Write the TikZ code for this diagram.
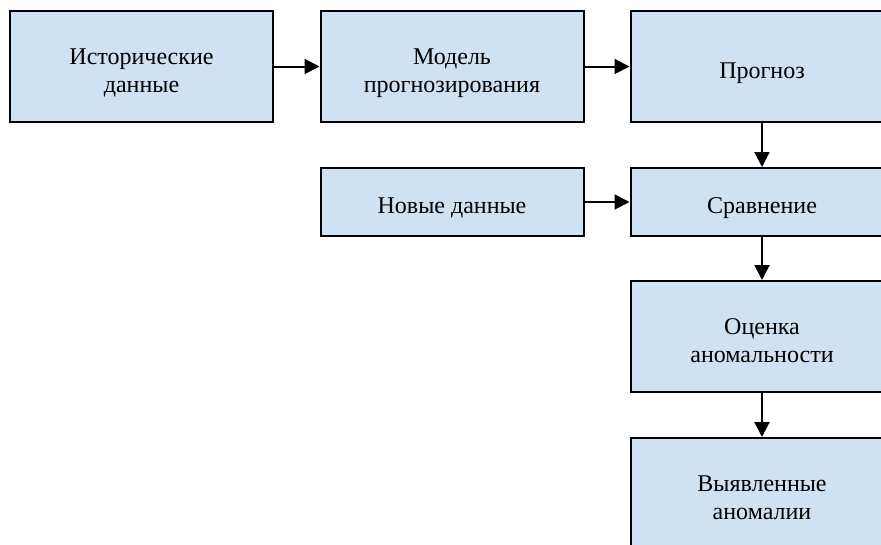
\documentclass[tikz,border=0pt]{standalone}
\usepackage{fontspec}
\setmainfont{Liberation Serif}
\usetikzlibrary{arrows.meta}
\definecolor{boxfill}{RGB}{207,226,243}
% centred lines, set a little below the middle of the box
\newcommand\blocktext[1]{\raisebox{-6pt}[\height][\depth]{\begin{tabular}{@{}c@{}}#1\end{tabular}}}
\begin{document}
\begin{tikzpicture}[x=1pt,y=-1pt,
  block/.style={draw=black, line width=2pt, fill=boxfill, rectangle,
    minimum width=263pt, minimum height=111pt, inner sep=0pt,
    font=\fontsize{24}{28}\selectfont},
  flat/.style={block, minimum height=68pt},
  link/.style={draw=black, line width=2pt, -{Triangle[length=15pt,width=15pt]}}]
  \useasboundingbox (0,0) rectangle (881,544);
  \clip (0,0) rectangle (881,544);
  % top row
  \node[block] (hist) at (141.5,66.5) {\blocktext{Исторические\\данные}};
  \node[block] (model) at (452,66.5) {\blocktext{Модель\\прогнозирования}};
  \node[block] (fc) at (762,66.5) {\blocktext{Прогноз}};
  % second row
  \node[flat] (new) at (452,202) {\blocktext{Новые данные}};
  \node[flat] (cmp) at (762,202) {\blocktext{Сравнение}};
  % right column
  \node[block] (score) at (762,336.5) {\blocktext{Оценка\\аномальности}};
  \node[block] (found) at (762,493.5) {\blocktext{Выявленные\\аномалии}};
  % connectors
  \draw[link] (hist) -- (model);
  \draw[link] (model) -- (fc);
  \draw[link] (fc) -- (cmp);
  \draw[link] (new) -- (cmp);
  \draw[link] (cmp) -- (score);
  \draw[link] (score) -- (found);
\end{tikzpicture}
\end{document}
